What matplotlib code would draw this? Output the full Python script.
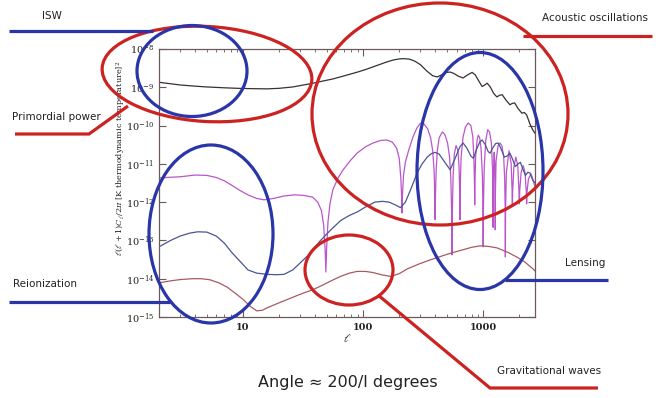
import matplotlib
matplotlib.use("Agg")
import matplotlib.pyplot as plt
from matplotlib.patches import Ellipse
from matplotlib.ticker import LogLocator, NullLocator, FuncFormatter, LogFormatterMathtext

plt.rcParams["mathtext.fontset"] = "dejavuserif"

# Temperature power spectrum (TT), K^2
tt_ell = [2, 3, 4, 5, 7, 9, 12, 16, 20, 26, 32, 38, 46, 56, 66, 78, 92, 108, 130, 158,
          180, 200, 220, 245, 270, 300, 342, 380, 414, 450, 490, 531, 570, 620, 681,
          740, 809, 860, 920, 980, 1030, 1080, 1150, 1220, 1300, 1370, 1440, 1550,
          1670, 1750, 1830, 1950, 2100, 2200, 2300, 2450, 2600, 2700]
tt_val = [1.35e-9, 1.15e-9, 1.07e-9, 1.02e-9, 9.7e-10, 9.4e-10, 9.2e-10, 9.1e-10,
          9.4e-10, 1.02e-9, 1.15e-9, 1.27e-9, 1.45e-9, 1.65e-9, 1.9e-9, 2.2e-9,
          2.55e-9, 3.0e-9, 3.7e-9, 4.6e-9, 5.2e-9, 5.5e-9, 5.6e-9, 5.4e-9, 4.8e-9,
          3.9e-9, 2.6e-9, 2.0e-9, 1.86e-9, 2.1e-9, 2.45e-9, 2.5e-9, 2.3e-9, 1.95e-9,
          1.75e-9, 2.1e-9, 2.45e-9, 2.1e-9, 1.45e-9, 1.05e-9, 1.15e-9, 1.28e-9,
          1.0e-9, 7e-10, 5.6e-10, 6.2e-10, 6.4e-10, 4.6e-10, 3.5e-10, 3.8e-10,
          3.9e-10, 2.8e-10, 2.1e-10, 2.2e-10, 1.9e-10, 1.1e-10, 7.5e-11, 6.3e-11]

# |TE| cross spectrum, K^2
te_ell = [2, 3, 4, 5, 6, 7, 8, 9.5, 11, 13, 15, 18, 22, 27, 32, 38, 42, 45, 47, 48.3,
          49, 49.7, 51, 53, 56, 62, 68, 78, 89, 105, 121, 140, 158, 175, 190, 200, 206,
          209, 211, 213, 217, 225, 240, 260, 280, 300, 320, 345, 365, 380, 390, 395,
          398, 401, 406, 415, 430, 457, 480, 505, 525, 538, 546, 550, 554, 562, 575,
          595, 615, 628, 636, 640, 644, 655, 680, 710, 750, 790, 820, 838, 846, 850,
          854, 865, 890, 910, 935, 960, 985, 995, 1000, 1005, 1020, 1050, 1090, 1130,
          1170, 1195, 1207, 1210, 1213, 1225, 1235, 1248, 1257, 1260, 1263, 1280,
          1330, 1380, 1430, 1480, 1510, 1525, 1530, 1535, 1560, 1640, 1710, 1740,
          1750, 1760, 1800, 1870, 1940, 1985, 2000, 2015, 2070, 2150, 2230, 2285,
          2300, 2315, 2380, 2500, 2620, 2700]
te_val = [4.3e-12, 4.6e-12, 5.1e-12, 5.0e-12, 4.4e-12, 3.6e-12, 2.8e-12, 2.0e-12,
          1.55e-12, 1.25e-12, 1.15e-12, 1.25e-12, 1.45e-12, 1.55e-12, 1.5e-12,
          1.35e-12, 1.0e-12, 6e-13, 2.5e-13, 6e-14, 1.5e-14, 6e-14, 3e-13, 9e-13,
          2.1e-12, 4.3e-12, 6.9e-12, 1.2e-11, 1.9e-11, 2.8e-11, 3.5e-11, 4.1e-11,
          4.2e-11, 3.7e-11, 2.6e-11, 1.4e-11, 4.5e-12, 1.6e-12, 5.2e-13, 1.6e-12,
          5e-12, 1.1e-11, 2.3e-11, 5e-11, 8.5e-11, 1.15e-10, 1.12e-10, 8.2e-11,
          4.8e-11, 2.2e-11, 7e-12, 1.8e-12, 3.5e-13, 1.8e-12, 7e-12, 2.2e-11,
          4.8e-11, 6.8e-11, 5.8e-11, 3.5e-11, 1.5e-11, 4e-12, 6e-13, 4.2e-14, 6e-13,
          5e-12, 1.8e-11, 3.0e-11, 2.3e-11, 1e-11, 2.5e-12, 3.5e-13, 2.5e-12,
          1.5e-11, 5e-11, 9e-11, 1.17e-10, 1.0e-10, 5e-11, 1.2e-11, 3e-12, 8.5e-13,
          3e-12, 1.5e-11, 4.2e-11, 5.6e-11, 4.8e-11, 2.5e-11, 5e-12, 8e-13, 6.8e-14,
          8e-13, 8e-12, 4e-11, 7.8e-11, 6.8e-11, 3.5e-11, 8e-12, 1.2e-12, 2.2e-13,
          1.2e-12, 1.2e-11, 2.0e-11, 1e-11, 1.5e-12, 1.9e-13, 1.5e-12, 1.2e-11,
          3e-11, 3.5e-11, 3e-11, 1.6e-11, 4e-12, 6e-13, 3.7e-14, 6e-13, 6e-12,
          2.2e-11, 1e-11, 2e-12, 8e-13, 2e-12, 8e-12, 1.5e-11, 9e-12, 2e-12, 9e-13,
          2e-12, 6e-12, 9e-12, 6e-12, 1.8e-12, 9e-13, 1.8e-12, 4e-12, 5.5e-12,
          3.5e-12, 2.5e-12]

# E-mode polarization (EE), K^2
ee_ell = [2, 2.5, 3, 3.6, 4.2, 5, 6, 7, 8, 9.5, 11, 13, 16, 19, 22, 26, 30, 36, 44, 54,
          65, 77, 90, 105, 125, 145, 165, 185, 205, 225, 250, 282, 310, 342, 370, 398,
          430, 470, 531, 590, 640, 680, 730, 790, 830, 880, 940, 980, 1040, 1100,
          1140, 1200, 1270, 1330, 1400, 1500, 1580, 1670, 1760, 1850, 1950, 2040,
          2150, 2250, 2350, 2450, 2580, 2700]
ee_val = [6.8e-14, 1.0e-13, 1.3e-13, 1.55e-13, 1.68e-13, 1.65e-13, 1.3e-13, 8.5e-14,
          5e-14, 2.8e-14, 1.7e-14, 1.4e-14, 1.3e-14, 1.27e-14, 1.3e-14, 1.7e-14,
          2.6e-14, 4.5e-14, 9.8e-14, 1.9e-13, 3.3e-13, 4.5e-13, 5.6e-13, 7.5e-13,
          1.0e-12, 1.05e-12, 1.0e-12, 8.5e-13, 7.2e-13, 1.0e-12, 2.2e-12, 5.8e-12,
          1.0e-11, 1.5e-11, 1.85e-11, 2.0e-11, 1.8e-11, 1.2e-11, 7e-12, 1.5e-11,
          2.8e-11, 3.5e-11, 2.6e-11, 1.6e-11, 1.4e-11, 2.4e-11, 3.8e-11, 4.2e-11,
          3.2e-11, 2.1e-11, 1.9e-11, 2.6e-11, 3.4e-11, 3.5e-11, 2.6e-11, 1.5e-11,
          1.6e-11, 1.9e-11, 1.3e-11, 8.5e-12, 1.0e-11, 1.1e-11, 7e-12, 5e-12, 6e-12,
          5.8e-12, 3.8e-12, 3.2e-12]

# B-mode polarization (BB: tensor + lensing), K^2
bb_ell = [2, 2.5, 3, 3.8, 4.5, 5.3, 6.3, 7.4, 8.6, 10, 11.5, 13, 14.5, 16, 19, 23, 28,
          33, 38, 46, 55, 65, 77, 89, 105, 121, 145, 170, 200, 233, 290, 362, 440,
          531, 650, 800, 940, 1100, 1300, 1600, 1900, 2200, 2600, 2700]
bb_val = [7.8e-15, 8.8e-15, 9.5e-15, 1.0e-14, 1.0e-14, 9.4e-15, 7.8e-15, 6e-15,
          4.2e-15, 2.9e-15, 1.9e-15, 1.45e-15, 1.5e-15, 1.75e-15, 2.2e-15, 2.8e-15,
          3.6e-15, 4.4e-15, 5.1e-15, 6.8e-15, 9e-15, 1.15e-14, 1.4e-14, 1.55e-14,
          1.55e-14, 1.45e-14, 1.25e-14, 1.15e-14, 1.35e-14, 1.8e-14, 2.4e-14,
          3.1e-14, 3.8e-14, 4.6e-14, 5.5e-14, 6.6e-14, 7.2e-14, 7e-14, 6.4e-14,
          4.9e-14, 3.7e-14, 2.8e-14, 1.8e-14, 1.6e-14]

W, H = 664, 398
fig = plt.figure(figsize=(W / 100, H / 100), dpi=100)
fig.patch.set_facecolor("white")

ax = fig.add_axes([159 / W, 1 - 317 / H, 376 / W, 268 / H])
ax.set_xscale("log")
ax.set_yscale("log")
ax.set_xlim(2, 2700)
ax.set_ylim(1e-15, 1e-8)

ax.plot(tt_ell, tt_val, color="#3a3030", lw=0.9)
ax.plot(te_ell, te_val, color="#bb55cc", lw=0.9)
ax.plot(ee_ell, ee_val, color="#4a5595", lw=0.9)
ax.plot(bb_ell, bb_val, color="#a85a62", lw=0.9)

spine_c = "#6a5a5a"
for s in ax.spines.values():
    s.set_color(spine_c)
    s.set_linewidth(0.9)
ax.xaxis.set_major_locator(LogLocator(base=10, numticks=10))
ax.xaxis.set_minor_locator(LogLocator(base=10, subs=range(2, 10), numticks=20))
ax.xaxis.set_major_formatter(FuncFormatter(lambda v, p: f"{int(round(v))}"))
ax.yaxis.set_major_locator(LogLocator(base=10, numticks=20))
ax.yaxis.set_minor_locator(NullLocator())
ax.yaxis.set_major_formatter(LogFormatterMathtext())
ax.tick_params(which="both", direction="in", top=True, right=True, color=spine_c,
               labelsize=7, labelcolor="#222222")
ax.tick_params(which="major", length=5, width=0.8)
ax.tick_params(which="minor", length=2.5, width=0.6)
ax.tick_params(axis="y", pad=3.5)
ax.tick_params(axis="x", pad=4)
for lab in ax.get_xticklabels() + ax.get_yticklabels():
    lab.set_family("DejaVu Serif")
for lab in ax.get_xticklabels():
    lab.set_fontweight("bold")

ax.set_xlabel(r"$\ell$", fontsize=8, color="#222222")
ax.xaxis.set_label_coords(0.5, -0.055)
ax.set_ylabel(r"$\ell(\ell+1)C_\ell/2\pi$ [K thermodynamic temperature]$^2$",
              fontsize=5.9, family="DejaVu Serif", color="#222222")
ax.yaxis.set_label_coords(-0.082, 0.593)

# Annotation overlay in figure pixel coordinates
ov = fig.add_axes([0, 0, 1, 1], zorder=5)
ov.set_xlim(0, W)
ov.set_ylim(H, 0)
ov.axis("off")
ov.patch.set_alpha(0)

RED = "#cc2222"
BLUE = "#2a35a8"
LW = 2.3


def ring(cx, cy, w, h, color, angle=0):
    ov.add_patch(Ellipse((cx, cy), w, h, angle=angle, fill=False, ec=color, lw=LW))


def leader(xs, ys, color):
    ov.plot(xs, ys, color=color, lw=LW, solid_capstyle="butt", solid_joinstyle="miter")


ring(207, 74, 210, 95, RED, angle=3.3)
ring(440, 114, 256, 222, RED)
ring(349, 270, 88, 70, RED)
ring(192, 71, 110, 91, BLUE)
ring(211, 234, 124, 178, BLUE)
ring(480, 171, 126, 237, BLUE)

leader([9, 153], [31, 31], BLUE)
leader([9, 170], [302, 302], BLUE)
leader([505, 608], [280, 280], BLUE)
leader([15, 89, 128], [134, 134, 106], RED)
leader([523, 652], [36, 36], RED)
leader([378, 490, 598], [295, 388, 388], RED)

tkw = dict(family="DejaVu Sans", color="#222222", va="center", ha="left")
ov.text(42, 16, "ISW", fontsize=7.5, **tkw)
ov.text(12, 117, "Primordial power", fontsize=7.5, **tkw)
ov.text(13, 284, "Reionization", fontsize=7.5, **tkw)
ov.text(542, 18, "Acoustic oscillations", fontsize=7.5, **tkw)
ov.text(565, 263, "Lensing", fontsize=7.5, **tkw)
ov.text(497, 371, "Gravitational waves", fontsize=7.5, **tkw)
ov.text(258, 382, "Angle \u2248 200/l degrees", fontsize=11.5, **tkw)

fig.savefig("out.png", dpi=100, facecolor="white")
